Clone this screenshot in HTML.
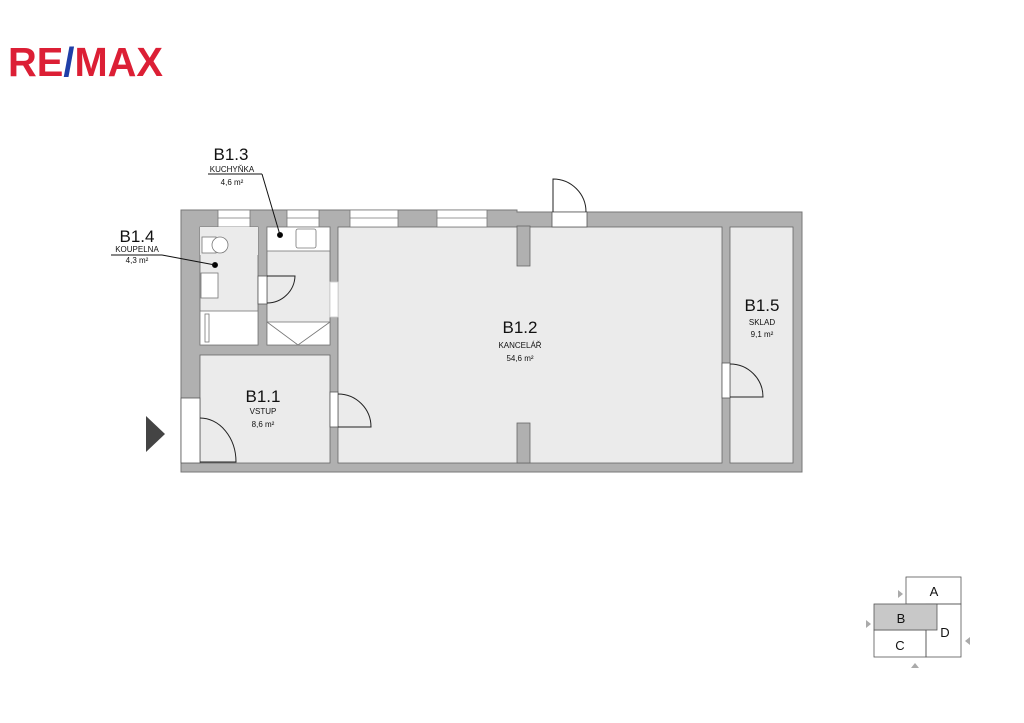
<!DOCTYPE html>
<html><head><meta charset="utf-8"><style>
html,body{margin:0;padding:0;background:#fff;width:1024px;height:723px;overflow:hidden}
svg{display:block}
text{font-family:"Liberation Sans",sans-serif;fill:#111}
</style></head><body>
<svg width="1024" height="723" viewBox="0 0 1024 723">
<!-- logo -->
<text x="8" y="76" font-size="41" font-weight="bold" style="fill:#dc1f35" textLength="155" lengthAdjust="spacingAndGlyphs">RE<tspan style="fill:#1f3fa8">/</tspan>MAX</text>

<!-- building walls -->
<path d="M181 210 H517 V212 H802 V472 H181 Z" fill="#b0b0b0" stroke="#777" stroke-width="1"/>
<!-- rooms -->
<g fill="#ebebeb" stroke="#666" stroke-width="0.8">
<rect x="200" y="227" width="58" height="118"/>
<rect x="267" y="227" width="63" height="118"/>
<rect x="200" y="355" width="130" height="108"/>
<rect x="338" y="227" width="384" height="236"/>
<rect x="730" y="227" width="63" height="236"/>
</g>
<!-- pilasters -->
<rect x="517" y="226" width="13" height="40" fill="#b0b0b0" stroke="#666" stroke-width="0.8"/>
<rect x="517" y="423" width="13" height="40" fill="#b0b0b0" stroke="#666" stroke-width="0.8"/>
<!-- windows -->
<g fill="#fff" stroke="#777" stroke-width="0.8">
<rect x="218" y="210" width="32" height="17"/>
<rect x="287" y="210" width="32" height="17"/>
<rect x="350" y="210" width="48" height="17"/>
<rect x="437" y="210" width="50" height="17"/>
</g>
<g stroke="#777" stroke-width="0.8">
<line x1="218" y1="218" x2="250" y2="218"/><line x1="287" y1="218" x2="319" y2="218"/>
<line x1="350" y1="218" x2="398" y2="218"/><line x1="437" y1="218" x2="487" y2="218"/>
</g>
<!-- doors -->
<g fill="#fff" stroke="#555" stroke-width="0.8">
<rect x="552" y="212" width="35" height="15"/>
<rect x="722" y="363" width="8" height="35"/>
<rect x="330" y="392" width="8" height="35"/>
<rect x="258" y="276" width="9" height="28"/>
<rect x="181" y="398" width="19" height="65"/>
<rect x="330" y="282" width="8" height="35" stroke="#ccc"/>
</g>
<g fill="none" stroke="#222" stroke-width="1">
<path d="M553 212 V179 A33 33 0 0 1 586 212"/>
<path d="M730 397 H763 A33 33 0 0 0 730 364"/>
<path d="M338 427 H371 A33 33 0 0 0 338 394"/>
<path d="M267 303 A28 28 0 0 0 295 276 H267"/>
<path d="M200 418 A36 44 0 0 1 236 462 H200"/>
</g>
<!-- fixtures -->
<g fill="#fff" stroke="#777" stroke-width="0.8">
<rect x="200" y="227" width="58" height="28" fill="#ebebeb" stroke="none"/>
<rect x="202" y="237" width="14" height="16"/>
<circle cx="220" cy="245" r="8"/>
<rect x="201" y="273" width="17" height="25"/>
<rect x="200" y="311" width="58" height="34"/>
<rect x="205" y="314" width="4" height="28"/>
<rect x="267" y="227" width="63" height="24"/>
<rect x="296" y="229" width="20" height="19" rx="2"/>
<rect x="267" y="322" width="63" height="23"/>
</g>
<path d="M267 322 L298 345 L330 322" fill="none" stroke="#777" stroke-width="0.8"/>
<!-- entry arrow -->
<path d="M146 416 L165 434 L146 452 Z" fill="#444"/>

<!-- labels -->
<g fill="#000" stroke="#111" stroke-width="1">
<circle cx="280" cy="235" r="2.5"/><circle cx="215" cy="265" r="2.5"/>
<line x1="208" y1="174" x2="262" y2="174"/><line x1="262" y1="174" x2="280" y2="235"/>
<line x1="111" y1="255" x2="162" y2="255"/><line x1="162" y1="255" x2="215" y2="265"/>
</g>
<text x="231" y="160" font-size="17" text-anchor="middle">B1.3</text>
<text x="232" y="172" font-size="8" text-anchor="middle">KUCHYŇKA</text>
<text x="232" y="185" font-size="8" text-anchor="middle">4,6 m²</text>
<text x="137" y="242" font-size="17" text-anchor="middle">B1.4</text>
<text x="137" y="252" font-size="8" text-anchor="middle">KOUPELNA</text>
<text x="137" y="263" font-size="8" text-anchor="middle">4,3 m²</text>
<text x="263" y="402" font-size="17" text-anchor="middle">B1.1</text>
<text x="263" y="414" font-size="8" text-anchor="middle">VSTUP</text>
<text x="263" y="427" font-size="8" text-anchor="middle">8,6 m²</text>
<text x="520" y="333" font-size="17" text-anchor="middle">B1.2</text>
<text x="520" y="348" font-size="8" text-anchor="middle">KANCELÁŘ</text>
<text x="520" y="361" font-size="8" text-anchor="middle">54,6 m²</text>
<text x="762" y="311" font-size="17" text-anchor="middle">B1.5</text>
<text x="762" y="325" font-size="8" text-anchor="middle">SKLAD</text>
<text x="762" y="337" font-size="8" text-anchor="middle">9,1 m²</text>

<!-- key plan -->
<g stroke="#555" stroke-width="0.8" fill="none">
<rect x="906" y="577" width="55" height="27"/>
<rect x="926" y="604" width="35" height="53"/>
<rect x="874" y="630" width="52" height="27"/>
<rect x="874" y="604" width="63" height="26" fill="#c8c8c8"/>
</g>
<g font-size="13" text-anchor="middle">
<text x="934" y="596">A</text><text x="901" y="623">B</text>
<text x="945" y="637">D</text><text x="900" y="650">C</text>
</g>
<g fill="#aaa">
<path d="M898 590 L903 594 L898 598 Z"/><path d="M866 620 L871 624 L866 628 Z"/>
<path d="M970 637 L965 641 L970 645 Z"/><path d="M911 668 L915 663 L919 668 Z"/>
</g>
</svg>
</body></html>
